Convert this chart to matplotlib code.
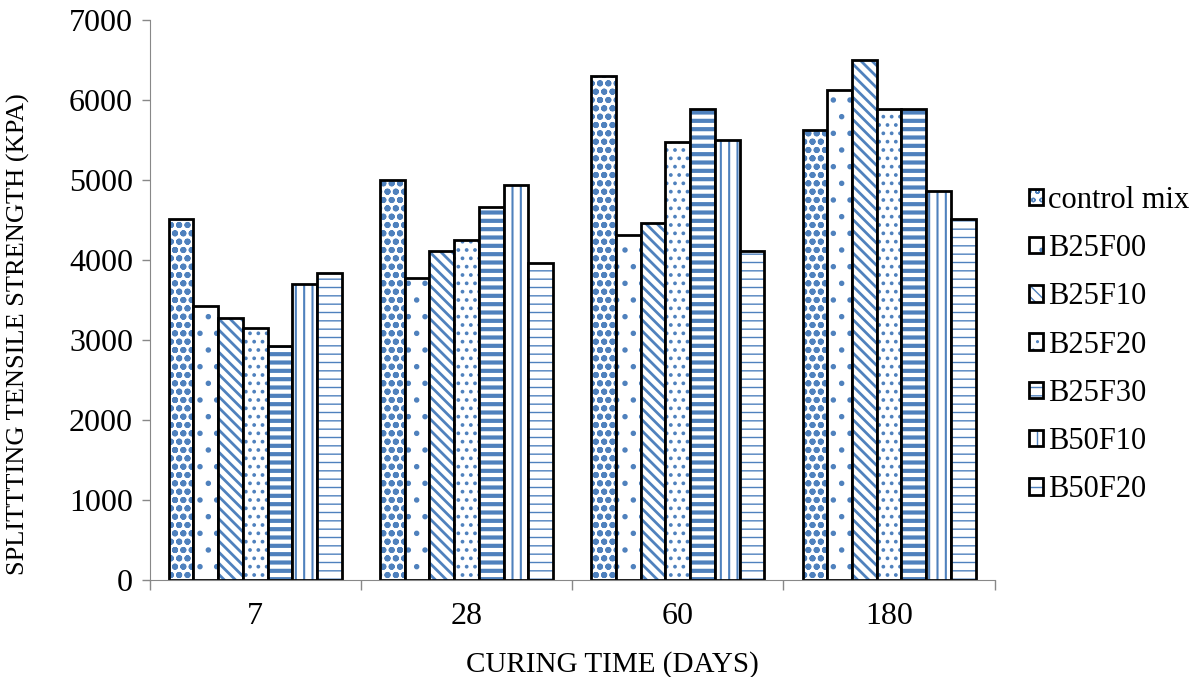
import numpy as np
import matplotlib
matplotlib.use("Agg")
import matplotlib.pyplot as plt

# Datos leídos do gráfico
days = ["7", "28", "60", "180"]
mixes = ["control mix", "B25F00", "B25F10", "B25F20", "B25F30", "B50F10", "B50F20"]
control_mix = [4520, 5000, 6300, 5625]
b25f00 = [3425, 3775, 4310, 6130]
b25f10 = [3280, 4110, 4460, 6510]
b25f20 = [3150, 4250, 5480, 5890]
b25f30 = [2925, 4660, 5890, 5890]
b50f10 = [3700, 4940, 5500, 4870]
b50f20 = [3840, 3960, 4110, 4520]
series = [control_mix, b25f00, b25f10, b25f20, b25f30, b50f10, b50f20]

# padrão de hachura e espessura de cada série
hatches = ["oo", ".", "\\\\\\", "..", "--", "||", "--"]
hatch_lw = [2.0, 1.5, 2.0, 1.5, 3.0, 1.5, 1.0]
blue = '#4F81BD'

plt.rcParams['font.family'] = ['Liberation Serif', 'DejaVu Serif']

fig = plt.figure(figsize=(11.97, 6.77), dpi=100)
ax = fig.add_axes([0.125, 0.143, 0.706, 0.827])

x = np.arange(len(days))
n = len(series)
w = 0.117
handles = []
for i, vals in enumerate(series):
    pos = x + (i - (n - 1) / 2) * w
    # hachura azul por baixo, contorno preto por cima
    with plt.rc_context({'hatch.linewidth': hatch_lw[i]}):
        h1 = ax.bar(pos, vals, w, facecolor='white', edgecolor=blue,
                    linewidth=0, hatch=hatches[i])
    h2 = ax.bar(pos, vals, w, fill=False, edgecolor='black', linewidth=2)
    handles.append((h1[0], h2[0]))

ax.set_xlim(-0.5, len(days) - 0.5)
ax.set_ylim(0, 7000)
ax.set_yticks(range(0, 7001, 1000))
ax.set_xticks(x)
ax.set_xticklabels(days)
ax.set_xticks(np.arange(-0.5, len(days), 1), minor=True)
ax.tick_params(axis='x', which='major', length=0, pad=16, labelsize=23)
ax.tick_params(axis='x', which='minor', length=7, width=1, color='#888888')
ax.tick_params(axis='y', length=6, width=1, color='#888888', labelsize=23, pad=6)
ax.spines['top'].set_visible(False)
ax.spines['right'].set_visible(False)
ax.spines['left'].set_color('#888888')
ax.spines['bottom'].set_color('#888888')

ax.set_xlabel("CURING TIME (DAYS)", fontsize=21)
ax.xaxis.set_label_coords(0.547, -0.127)
ax.set_ylabel("SPLITTTING TENSILE STRENGTH (KPA)", fontsize=19, va='center')
ax.yaxis.set_label_coords(-0.155, 0.44)

ax.legend(handles, mixes, loc='center left', bbox_to_anchor=(1.041, 0.42), frameon=False,
          fontsize=22, handlelength=0.45, handleheight=0.45, handletextpad=0.15,
          labelspacing=0.63, borderaxespad=0, borderpad=0)

fig.savefig("out.png", dpi=100)
